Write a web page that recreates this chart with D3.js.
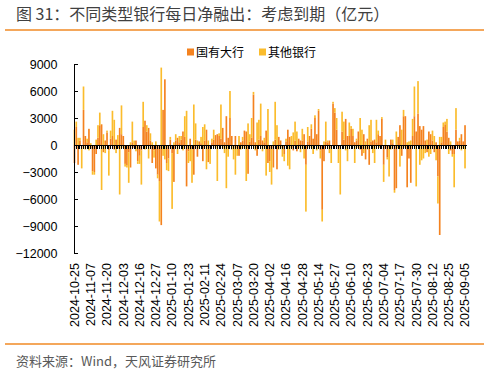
<!DOCTYPE html>
<html lang="zh">
<head>
<meta charset="utf-8">
<title>不同类型银行每日净融出</title>
<script src="https://cdn.jsdelivr.net/npm/d3@7/dist/d3.min.js"></script>
<style>
  body { margin: 0; background: #fff; }
  .axis text { font-family: "Liberation Sans", Arial, sans-serif; font-size: 12.5px; fill: #000; }
  .axis path, .axis line { stroke: #000; shape-rendering: crispEdges; }
</style>
</head>
<body>
<script>
// 国有大行 daily net lending (亿元), one value per trading day from 2024-10-25
var stateBanks = [
  -2000, 2000, -2200, 500, -300, 3900, 1000, 300, 1800, -400,
  -2900, -3000, -1000, 800, 2200, 2300, -800, 500, 1400, -600,
  700, 1000, -500, 600, -400, 1900, 1200, 1000, -2100, -2300,
  -800, -2500, 300, -300, 500, -1800, -1200, -600, 2000, 2700,
  1500, 1900, 500, -2000, -600, -2600, -3300, -4000, -8900, 3900,
  7300, -2000, -1500, 600, -900, -4100, 500, 800, 300, 600,
  1500, 900, -4600, -700, 700, -500, -3300, 600, -1300, 400,
  200, -1800, 500, 1700, -1900, -400, 300, 600, 1100, 1200,
  1000, 700, 1900, 300, 3200, 800, 3000, 1000, -300, 1000,
  -400, -1200, 300, 500, 1600, 1500, -3200, 400, 800, 5600,
  300, -1200, 600, 1000, 500, 300, 1600, -2000, -1800, -400,
  -2500, 600, -2700, 900, 500, -300, -1000, 400, 1700, 900,
  -300, -600, 500, -700, 700, 500, 500, 1200, -2200, 400,
  1000, 1800, 700, 3000, 1200, 3800, -600, -7200, -1800, 400,
  300, 500, -400, 4600, 3600, 1700, -500, -300, 1500, 600,
  2900, 1000, 1000, 1800, 1000, 300, 500, 1500, -500, -1200,
  1200, -1600, 700, -2200, 400, 500, 600, 300, 1200, 1000,
  2900, -2200, -400, -1400, -300, 600, 200, -5000, -4800, 900,
  2200, -1200, 3200, 3200, -4700, -1500, -4200, 1000, 3200, 1500,
  3500, 2100, 1700, 2100, 500, -800, 1500, 1200, 500, -800,
  300, -3500, -10000, 300, 2000, 2300, 1500, 800, -600, -1000,
  -1000, 1700, 400, 500, 1200, 400, 2200
];

// 其他银行 daily net lending (亿元)
var otherBanks = [
  1700, 600, 800, 300, -2300, 2600, -500, 400, -600, 200,
  -400, -300, 600, 1400, 1400, -5000, 1200, -900, 200, -2800,
  900, 2800, 2800, -900, 1100, -5500, 3200, -300, -300, -200,
  -3400, 300, 2300, 500, -700, -300, -900, -3800, 2800, -500,
  700, -1500, 800, 300, -800, 400, -400, -4500, 8600, -1200,
  -1600, -800, -1400, 300, -6200, 300, 700, -1000, 700, 400,
  -600, 2300, 3800, -1300, -1800, -3700, 4500, 1800, 500, -400,
  700, 2000, 1800, -2700, 500, -1700, 400, 1100, -300, -4000,
  300, 3800, -400, -900, -4800, -1300, 3000, -500, -1300, -3300,
  -800, 1000, -500, 400, -400, -4000, 2400, 800, 2200, 300,
  -600, 2500, 2200, 3600, -700, 500, -3400, 4000, -1200, -4000,
  400, 4200, 2200, -500, -300, -1000, -800, 300, -2300, -2700,
  1000, 1400, 2100, 1500, -300, -800, 1300, -1500, -5200, 1600,
  -300, 500, -1000, 300, -600, 200, -900, -1300, 400, 2200,
  200, -900, -1600, 200, 500, 1300, -1500, -5200, 2200, 2000,
  -600, -1800, 1500, 300, 800, -2000, 200, -300, 3000, 1700,
  -900, 400, -500, 2200, 2400, -900, -2000, 2500, 400, -300,
  200, -1900, 600, -200, -3200, -500, 400, -300, 1500, -400,
  -2400, 1700, 700, -300, 300, 400, 500, 1900, 3300, -4600,
  3600, -2200, -1700, -1500, -900, 600, -1300, -1000, 1100, 1000,
  -1700, -3000, 900, 600, 500, 300, 1400, -1000, 400, -300,
  -3700, 2400, -300, 300, -600, -400, -2600
];

// x-axis tick labels, one every 9 trading days
var tickLabels = [
  "2024-10-25", "2024-11-07", "2024-11-20", "2024-12-03", "2024-12-16",
  "2024-12-27", "2025-01-10", "2025-01-23", "2025-02-11", "2025-02-24",
  "2025-03-07", "2025-03-20", "2025-04-02", "2025-04-16", "2025-04-28",
  "2025-05-14", "2025-05-27", "2025-06-10", "2025-06-23", "2025-07-04",
  "2025-07-17", "2025-07-30", "2025-08-12", "2025-08-25", "2025-09-05"
];
var tickStep = 9;

var yTicks = [9000, 6000, 3000, 0, -3000, -6000, -9000, -12000];
var seriesNames = ["国有大行", "其他银行"];
var colors = ["#F4821F", "#FBBC2C"];

var W = 490, H = 372;
var plot = {left: 73.5, right: 466, top: 64, bottom: 253};

var rows = stateBanks.map(function(v, i) {
  return {i: i, state: v, other: otherBanks[i]};
});

var svg = d3.select("body").append("svg")
  .attr("width", W)
  .attr("height", H);

// title + rules
svg.append("text")
  .attr("x", 16).attr("y", 20)
  .attr("font-family", "'Noto Sans CJK SC', sans-serif")
  .attr("font-size", 16)
  .attr("fill", "#404040")
  .text("图 31：不同类型银行每日净融出：考虑到期（亿元）");

svg.append("line")
  .attr("x1", 5).attr("x2", 484).attr("y1", 30).attr("y2", 30)
  .attr("stroke", "#F08A24").attr("stroke-width", 1.5);

svg.append("line")
  .attr("x1", 5).attr("x2", 484).attr("y1", 344).attr("y2", 344)
  .attr("stroke", "#F08A24").attr("stroke-width", 1.5);

svg.append("text")
  .attr("x", 16).attr("y", 366)
  .attr("font-family", "'Noto Sans CJK SC', sans-serif")
  .attr("font-size", 13)
  .attr("fill", "#595959")
  .text("资料来源：Wind，天风证券研究所");

// legend
var legendX = [187, 259];
seriesNames.forEach(function(name, k) {
  svg.append("rect")
    .attr("x", legendX[k]).attr("y", 48.5)
    .attr("width", 7).attr("height", 7)
    .attr("fill", colors[k]);
  svg.append("text")
    .attr("x", legendX[k] + 9).attr("y", 56.5)
    .attr("font-family", "'Noto Sans CJK SC', sans-serif")
    .attr("font-size", 12)
    .attr("fill", "#000")
    .text(name);
});

// scales
var xScale = d3.scaleBand()
  .domain(d3.range(rows.length))
  .range([plot.left, plot.right])
  .padding(0.08);

var yScale = d3.scaleLinear()
  .domain([-12000, 9000])
  .range([plot.bottom, plot.top]);

// stacked bars, positives up and negatives down
var stack = d3.stack()
  .keys(["state", "other"])
  .offset(d3.stackOffsetDiverging);

var layers = stack(rows);

svg.append("g")
  .selectAll("g")
  .data(layers)
  .enter()
  .append("g")
  .attr("fill", function(d, k) { return colors[k]; })
  .selectAll("rect")
  .data(function(d) { return d; })
  .enter()
  .append("rect")
  .attr("x", function(d) { return xScale(d.data.i); })
  .attr("width", xScale.bandwidth())
  .attr("y", function(d) { return yScale(Math.max(d[0], d[1])); })
  .attr("height", function(d) { return Math.abs(yScale(d[0]) - yScale(d[1])); });

// y axis
var yAxis = d3.axisLeft(yScale)
  .tickValues(yTicks)
  .tickSizeInner(-4)
  .tickSizeOuter(0)
  .tickPadding(16)
  .tickFormat(d3.format("d"));

svg.append("g")
  .attr("class", "axis")
  .attr("transform", "translate(" + plot.left + ",0)")
  .call(yAxis);

// zero line with a tick at every trading day
var zeroAxis = d3.axisBottom(xScale)
  .tickSize(4)
  .tickSizeOuter(0)
  .tickFormat("");

svg.append("g")
  .attr("class", "axis")
  .attr("transform", "translate(0," + yScale(0) + ")")
  .call(zeroAxis);

// date labels at the bottom
var labelAxis = d3.axisBottom(xScale)
  .tickValues(tickLabels.map(function(d, k) { return k * tickStep; }))
  .tickSize(0)
  .tickFormat(function(d) { return tickLabels[d / tickStep]; });

var labelG = svg.append("g")
  .attr("class", "axis")
  .attr("transform", "translate(0,263)")
  .call(labelAxis);

labelG.select(".domain").remove();
labelG.selectAll("text")
  .attr("transform", "rotate(-90)")
  .attr("text-anchor", "end")
  .attr("x", 0)
  .attr("y", 0)
  .attr("dy", "0.35em");
</script>
</body>
</html>
